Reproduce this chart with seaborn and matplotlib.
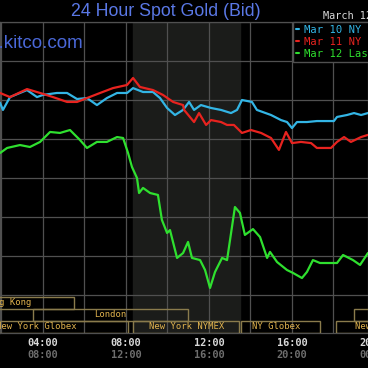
import matplotlib
matplotlib.use('Agg')
import matplotlib.pyplot as plt
from matplotlib.patches import Rectangle
from matplotlib.lines import Line2D
import pandas as pd
import seaborn as sns

# hours (New York time) and bid price
hours_mar10 = [1.93, 2.07, 2.41, 3.23, 3.71, 4.00, 4.67, 5.16, 5.64, 6.12, 6.60, 7.08,
               7.57, 8.05, 8.34, 8.82, 9.30, 9.64, 9.98, 10.36, 10.75, 11.04, 11.28,
               11.61, 12.10, 12.58, 13.06, 13.35, 13.59, 14.07, 14.31, 14.99, 15.47,
               15.76, 16.00, 16.24, 16.72, 17.20, 18.02, 18.17, 18.65, 18.99, 19.33, 19.66]
gold_mar10 = [1668.5, 1664.9, 1671.5, 1675.1, 1671.5, 1672.6, 1673.6, 1673.6, 1670.5,
              1671.0, 1667.4, 1671.0, 1673.6, 1673.6, 1676.1, 1674.1, 1674.1, 1671.0,
              1665.9, 1662.3, 1664.9, 1669.0, 1664.9, 1667.4, 1665.9, 1664.9, 1663.3,
              1664.9, 1670.0, 1669.0, 1664.9, 1662.3, 1659.7, 1658.7, 1655.6, 1658.7,
              1658.7, 1659.2, 1659.2, 1661.3, 1662.3, 1663.3, 1662.3, 1663.3]

hours_mar11 = [1.93, 2.41, 3.23, 3.86, 4.48, 5.16, 5.64, 6.12, 6.75, 7.37, 8.05, 8.34,
               8.67, 9.30, 9.78, 10.27, 10.75, 10.80, 11.28, 11.52, 11.86, 12.10, 12.58,
               12.87, 13.20, 13.59, 14.02, 14.51, 14.99, 15.37, 15.71, 16.00, 16.43,
               16.92, 17.20, 17.88, 18.17, 18.51, 18.84, 19.33, 19.66]
gold_mar11 = [1673.6, 1671.5, 1675.6, 1673.6, 1671.5, 1669.0, 1669.0, 1671.0, 1673.6,
              1676.1, 1677.7, 1681.3, 1676.7, 1675.1, 1672.6, 1669.0, 1667.4, 1664.9,
              1658.7, 1663.3, 1657.2, 1659.7, 1658.7, 1657.2, 1657.2, 1653.1, 1654.6,
              1653.1, 1650.5, 1644.4, 1653.6, 1647.9, 1648.5, 1647.9, 1645.4, 1645.4,
              1648.5, 1651.0, 1648.5, 1651.0, 1652.1]

hours_mar12 = [1.93, 2.27, 2.89, 3.37, 3.86, 4.34, 4.82, 5.30, 5.78, 6.12, 6.60, 7.08,
               7.57, 7.86, 8.10, 8.29, 8.53, 8.63, 8.82, 9.16, 9.54, 9.73, 9.98, 10.12,
               10.46, 10.75, 10.99, 11.18, 11.57, 11.81, 12.05, 12.29, 12.63, 12.87,
               13.25, 13.49, 13.73, 14.12, 14.46, 14.80, 14.94, 15.28, 15.76, 16.05,
               16.48, 16.72, 17.01, 17.35, 18.17, 18.46, 18.94, 19.28, 19.66]
gold_mar12 = [1642.8, 1645.4, 1646.9, 1645.9, 1648.5, 1653.6, 1653.1, 1654.6, 1649.5,
              1645.4, 1648.5, 1648.5, 1651.0, 1650.5, 1642.8, 1635.6, 1630.0, 1622.3,
              1624.9, 1622.3, 1621.3, 1608.5, 1601.8, 1603.3, 1589.0, 1591.5, 1597.2,
              1589.0, 1587.9, 1582.8, 1573.6, 1581.8, 1589.0, 1587.9, 1615.1, 1612.1,
              1600.8, 1603.8, 1599.7, 1589.0, 1592.1, 1586.9, 1582.8, 1581.3, 1578.7,
              1581.8, 1587.9, 1586.4, 1586.4, 1590.5, 1587.9, 1585.4, 1591.5]

series_labels = ['Mar 10 NY Close', 'Mar 11 NY Close', 'Mar 12 Last Trade']
series_colors = ['#33b5e5', '#e8231f', '#2fe02f']

time_ticks = [4, 8, 12, 16, 20]
time_labels_ny = ['04:00', '08:00', '12:00', '16:00', '20:00']
time_labels_gmt = ['08:00', '12:00', '16:00', '20:00', '00:00']

# (label, start, end, row, text x, alignment)
sessions = [
    ('Hong Kong', 0.5, 5.49, 0, 1.1, 'left'),
    ('London', 3.52, 10.99, 1, 7.25, 'center'),
    ('', 18.99, 23.0, 1, None, 'left'),
    ('New York Globex', 0.5, 8.1, 2, 1.74, 'left'),
    ('New York NYMEX', 8.34, 13.45, 2, 10.92, 'center'),
    ('NY Globex', 13.54, 17.35, 2, 14.07, 'left'),
    ('New York Globex', 18.12, 23.0, 2, 19.04, 'left'),
]

frames = []
for lab, h, g in zip(series_labels, [hours_mar10, hours_mar11, hours_mar12],
                     [gold_mar10, gold_mar11, gold_mar12]):
    frames.append(pd.DataFrame({'hour': h, 'bid': g, 'day': lab}))
df = pd.concat(frames, ignore_index=True)

sns.set_style('dark')
plt.rcParams['font.family'] = ['DejaVu Sans']

fig = plt.figure(figsize=(3.68, 3.68), dpi=100, facecolor='black')
ax = fig.add_axes([0, 35 / 368, 1, 311 / 368])
ax.set_facecolor('black')

xmin, xmax = 1.928, 19.663
ymin, ymax = 1550.5, 1710.0
ax.set_xlim(xmin, xmax)
ax.set_ylim(ymin, ymax)

# NYMEX trading hours shading
ax.axvspan(8.333, 13.5, color='#1b1c1a', zorder=0)

grid_c = '#505050'
for xv in range(2, 20, 2):
    ax.axvline(xv, color=grid_c, lw=0.9, zorder=1)
for yv in range(1570, 1711, 20):
    ax.axhline(yv, color=grid_c, lw=0.9, zorder=1)

sns.lineplot(data=df, x='hour', y='bid', hue='day', palette=series_colors,
             estimator=None, sort=False, lw=1.6, legend=False, ax=ax, zorder=3)

# session boxes below the price area
row_edges = [(1562.8, 1569.0), (1556.7, 1562.8), (1550.5, 1556.7)]
box_c = '#8a7b4c'
text_c = '#e2b44e'
for lab, s, e, row, tx, al in sessions:
    y0, y1 = row_edges[row]
    ax.add_patch(Rectangle((s, y0), e - s, y1 - y0, fill=False, ec=box_c, lw=1.0, zorder=4))
    if lab:
        ax.text(tx, (y0 + y1) / 2, lab, ha=al, va='center', color=text_c,
                fontsize=6.4, family='DejaVu Sans Mono', zorder=5)

ax.set_xticks([])
ax.set_yticks([])
ax.set_xlabel('')
ax.set_ylabel('')
for sp in ax.spines.values():
    sp.set_color(grid_c)
    sp.set_linewidth(0.9)

# time labels: New York time (white) and GMT (grey)
for t, a, b in zip(time_ticks, time_labels_ny, time_labels_gmt):
    xf = (t - xmin) / (xmax - xmin)
    fig.text(xf, 1 - 343 / 368, a, ha='center', va='center', color='#d8d8d8',
             fontsize=7.4, family='DejaVu Sans Mono', fontweight='bold')
    fig.text(xf, 1 - 355 / 368, b, ha='center', va='center', color='#6e6e6e',
             fontsize=7.4, family='DejaVu Sans Mono', fontweight='bold')

handles = [Line2D([0], [0], color=c, lw=1.5) for c in series_colors]
leg = ax.legend(handles, series_labels, loc='upper left', bbox_to_anchor=(293 / 368, 1.0),
                borderaxespad=0, frameon=True, fancybox=False, facecolor='black',
                edgecolor=grid_c, framealpha=1, handlelength=0.35, handletextpad=0.45,
                labelspacing=0.2, borderpad=0.25,
                prop={'family': 'DejaVu Sans Mono', 'size': 7.6})
leg.set_zorder(6)
for txt, c in zip(leg.get_texts(), series_colors):
    txt.set_color(c)

fig.text(166 / 368, 1 - 12 / 368, '24 Hour Spot Gold (Bid)', ha='center', va='center',
         color='#5a78e6', fontsize=12.8, family='Liberation Sans')
fig.text(323 / 368, 1 - 16 / 368, 'March 12, 2020', ha='left', va='center',
         color='#d8d8d8', fontsize=7.4, family='DejaVu Sans Mono')
ax.text(83 / 368, 1 - 21 / 311, 'www.kitco.com', transform=ax.transAxes, ha='right',
        va='center', color='#4a68d8', fontsize=13.5, family='Liberation Sans', zorder=6)

fig.savefig('out.png', dpi=100, facecolor='black')
